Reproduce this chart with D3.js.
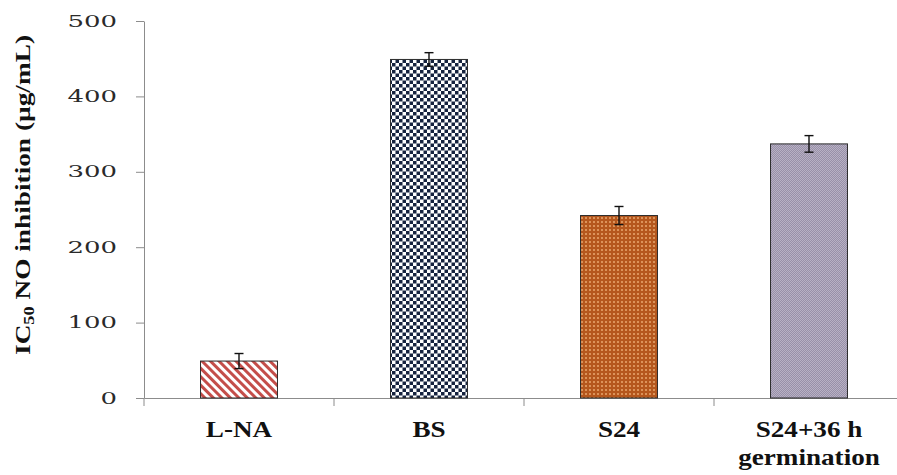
<!DOCTYPE html>
<html>
<head>
<meta charset="utf-8">
<script src="https://d3js.org/d3.v7.min.js"></script>
<style>
  body { margin: 0; background: #fff; }
  svg { display: block; }
</style>
</head>
<body>
<script>
// chart frame is fixed to the reference size
var width = 897,
    height = 475;

// data
var categories = ['L-NA', 'BS', 'S24', 'S24+36 h germination'];
var labelLines = [['L-NA'], ['BS'], ['S24'], ['S24+36 h', 'germination']];
var values = [49, 449, 242, 337];
var errors = [10, 9, 12, 11];
var yTicks = [0, 100, 200, 300, 400, 500];
var fills = ['url(#stripes)', 'url(#checker)', 'url(#dots)', 'url(#fine)'];

// scales: band width ~77px in a 190px step
var x = d3.scaleBand()
    .domain(categories)
    .range([144, 904])
    .paddingInner(0.595)
    .paddingOuter(0.2975);

var y = d3.scaleLinear()
    .domain([0, 500])
    .range([398, 21]);

var svg = d3.select('body')
    .append('svg')
    .attr('width', width)
    .attr('height', height);

// fill patterns for each bar
var defs = svg.append('defs');

var stripes = defs.append('pattern')
    .attr('id', 'stripes')
    .attr('patternUnits', 'userSpaceOnUse')
    .attr('width', 6).attr('height', 6)
    .attr('patternTransform', 'rotate(-45)');
stripes.append('rect').attr('width', 6).attr('height', 6).attr('fill', '#fff');
stripes.append('rect').attr('width', 3).attr('height', 6).attr('fill', '#c44e4a');

var checker = defs.append('pattern')
    .attr('id', 'checker')
    .attr('patternUnits', 'userSpaceOnUse')
    .attr('width', 7).attr('height', 7);
checker.append('rect').attr('width', 7).attr('height', 7).attr('fill', '#fff');
checker.append('rect').attr('width', 3.5).attr('height', 3.5).attr('fill', '#16233f');
checker.append('rect').attr('x', 3.5).attr('y', 3.5).attr('width', 3.5).attr('height', 3.5).attr('fill', '#16233f');

var dots = defs.append('pattern')
    .attr('id', 'dots')
    .attr('patternUnits', 'userSpaceOnUse')
    .attr('width', 4).attr('height', 4);
dots.append('rect').attr('width', 4).attr('height', 4).attr('fill', '#b5571d');
dots.append('rect').attr('x', 1).attr('y', 1).attr('width', 2).attr('height', 2).attr('fill', '#dc935a');

var fine = defs.append('pattern')
    .attr('id', 'fine')
    .attr('patternUnits', 'userSpaceOnUse')
    .attr('width', 2).attr('height', 2);
fine.append('rect').attr('width', 2).attr('height', 2).attr('fill', '#9890a8');
fine.append('rect').attr('width', 1).attr('height', 1).attr('fill', '#b8b1c4');
fine.append('rect').attr('x', 1).attr('y', 1).attr('width', 1).attr('height', 1).attr('fill', '#b8b1c4');

// y axis
var yAxis = svg.append('g')
    .attr('transform', 'translate(144,0)')
    .call(d3.axisLeft(y).tickValues(yTicks).tickSize(8).tickSizeOuter(0).tickPadding(19));

yAxis.selectAll('path, line').attr('stroke', '#8c8c8c');
yAxis.selectAll('text')
    .attr('font-family', '"DejaVu Serif", serif')
    .attr('font-size', 16)
    .attr('fill', '#2a2a2a')
    .attr('textLength', function(d) { return String(d).length * 16.5; })
    .attr('lengthAdjust', 'spacingAndGlyphs');

// x axis, labels at band centres
var xAxis = svg.append('g')
    .attr('transform', 'translate(0,398)')
    .call(d3.axisBottom(x).tickSize(0).tickSizeOuter(0).tickFormat(''));

xAxis.select('.domain').attr('stroke', '#8c8c8c');

xAxis.selectAll('.tick text')
    .attr('y', 39)
    .attr('dy', 0)
    .attr('font-family', '"Liberation Serif", "Times New Roman", serif')
    .attr('font-weight', 'bold')
    .attr('font-size', 23)
    .attr('fill', '#111')
    .attr('transform', 'scale(1.18,1)')
    .each(function(d, i) {
        var t = d3.select(this);
        labelLines[i].forEach(function(line, j) {
            t.append('tspan')
                .attr('x', 0)
                .attr('dy', j === 0 ? 0 : 28)
                .text(line);
        });
    });

// category boundary ticks below the axis
xAxis.selectAll('.bound')
    .data(d3.range(categories.length + 1))
    .enter().append('line')
    .attr('class', 'bound')
    .attr('x1', function(i) { return x.range()[0] + i * x.step(); })
    .attr('x2', function(i) { return x.range()[0] + i * x.step(); })
    .attr('y1', 0)
    .attr('y2', 8)
    .attr('stroke', '#8c8c8c');

// bars
svg.append('g').selectAll('rect')
    .data(values)
    .enter().append('rect')
    .attr('x', function(d, i) { return x(categories[i]); })
    .attr('y', function(d) { return y(d); })
    .attr('width', x.bandwidth())
    .attr('height', function(d) { return y(0) - y(d); })
    .attr('fill', function(d, i) { return fills[i]; })
    .attr('stroke', '#2b2b2b')
    .attr('stroke-width', 1);

// error bars
var err = svg.append('g')
    .attr('stroke', '#111')
    .attr('stroke-width', 1.4)
    .selectAll('g')
    .data(values)
    .enter().append('g')
    .attr('transform', function(d, i) { return 'translate(' + (x(categories[i]) + x.bandwidth() / 2) + ',0)'; });

err.append('line')
    .attr('y1', function(d, i) { return y(d + errors[i]); })
    .attr('y2', function(d, i) { return y(d - errors[i]); });
err.append('line')
    .attr('x1', -4.5).attr('x2', 4.5)
    .attr('y1', function(d, i) { return y(d + errors[i]); })
    .attr('y2', function(d, i) { return y(d + errors[i]); });
err.append('line')
    .attr('x1', -4.5).attr('x2', 4.5)
    .attr('y1', function(d, i) { return y(d - errors[i]); })
    .attr('y2', function(d, i) { return y(d - errors[i]); });

// y title with subscript
var title = svg.append('text')
    .attr('transform', 'translate(30,195) rotate(-90)')
    .attr('text-anchor', 'middle')
    .attr('font-family', '"Liberation Serif", "Times New Roman", serif')
    .attr('font-weight', 'bold')
    .attr('font-size', 21)
    .attr('fill', '#111')
    .attr('textLength', 320)
    .attr('lengthAdjust', 'spacingAndGlyphs');
title.append('tspan').text('IC');
title.append('tspan').attr('font-size', 14).attr('dy', 4).text('50');
title.append('tspan').attr('dy', -4).text(' NO inhibition (µg/mL)');
</script>
</body>
</html>
